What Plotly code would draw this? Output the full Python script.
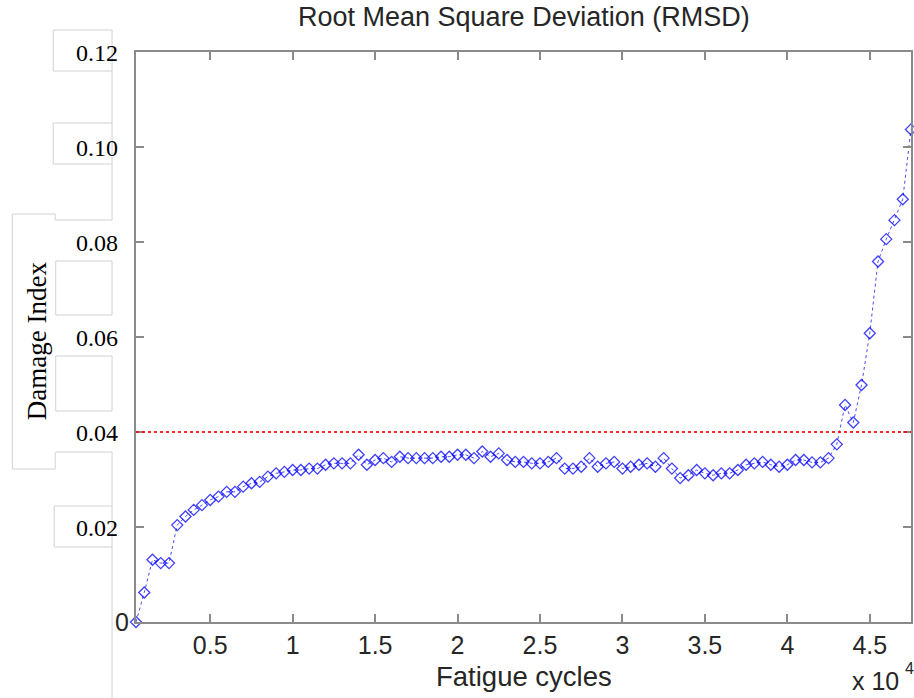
import plotly.graph_objects as go

# ---------------- data ----------------
cycles = [500, 1000, 1500, 2000, 2500, 3000, 3500, 4000, 4500, 5000,
          5500, 6000, 6500, 7000, 7500, 8000, 8500, 9000, 9500, 10000,
          10500, 11000, 11500, 12000, 12500, 13000, 13500, 14000, 14500, 15000,
          15500, 16000, 16500, 17000, 17500, 18000, 18500, 19000, 19500, 20000,
          20500, 21000, 21500, 22000, 22500, 23000, 23500, 24000, 24500, 25000,
          25500, 26000, 26500, 27000, 27500, 28000, 28500, 29000, 29500, 30000,
          30500, 31000, 31500, 32000, 32500, 33000, 33500, 34000, 34500, 35000,
          35500, 36000, 36500, 37000, 37500, 38000, 38500, 39000, 39500, 40000,
          40500, 41000, 41500, 42000, 42500, 43000, 43500, 44000, 44500, 45000,
          45500, 46000, 46500, 47000, 47500]
rmsd = [0.0000, 0.0062, 0.0131, 0.0124, 0.0124, 0.0204, 0.0222, 0.0236, 0.0246, 0.0257,
        0.0264, 0.0274, 0.0274, 0.0285, 0.0292, 0.0295, 0.0306, 0.0313, 0.0316, 0.0320,
        0.0320, 0.0323, 0.0323, 0.0331, 0.0334, 0.0334, 0.0334, 0.0352, 0.0331, 0.0341,
        0.0345, 0.0337, 0.0348, 0.0345, 0.0345, 0.0345, 0.0345, 0.0348, 0.0348, 0.0352,
        0.0352, 0.0345, 0.0359, 0.0348, 0.0355, 0.0341, 0.0337, 0.0337, 0.0334, 0.0334,
        0.0337, 0.0345, 0.0323, 0.0323, 0.0327, 0.0345, 0.0327, 0.0334, 0.0337, 0.0323,
        0.0327, 0.0331, 0.0334, 0.0327, 0.0345, 0.0323, 0.0303, 0.0309, 0.0320, 0.0313,
        0.0309, 0.0313, 0.0313, 0.0320, 0.0331, 0.0334, 0.0337, 0.0331, 0.0327, 0.0331,
        0.0341, 0.0341, 0.0336, 0.0336, 0.0345, 0.0374, 0.0457, 0.0420, 0.0499, 0.0608,
        0.0759, 0.0806, 0.0846, 0.0890, 0.1037]
threshold = 0.04

x_tick_vals = [5000, 10000, 15000, 20000, 25000, 30000, 35000, 40000, 45000]
x_tick_text = ["0.5", "1", "1.5", "2", "2.5", "3", "3.5", "4", "4.5"]
y_tick_vals = [0, 0.02, 0.04, 0.06, 0.08, 0.10, 0.12]
y_tick_text = ["0", "0.02", "0.04", "0.06", "0.08", "0.10", "0.12"]

title_text = "Root Mean Square Deviation (RMSD)"
x_title = "Fatigue cycles"
y_title = "Damage Index"
exp_base = "x 10"
exp_power = "4"

# ---------------- layout geometry (pixels) ----------------
W, H = 914, 698
L, R, T, B = 136, 913, 52, 622
PW, PH = R - L, B - T


def px(x):
    return (x - L) / PW


def py(y):
    return (B - y) / PH


SANS = "Liberation Sans, Arial, Helvetica, sans-serif"
SERIF = "Liberation Serif, Times New Roman, serif"
TXT = "#262626"
AX = "#8a8a8a"
BOX = "#d2d2d2"

fig = go.Figure()

fig.add_trace(go.Scatter(
    x=cycles, y=rmsd, mode="lines+markers",
    line=dict(color="rgba(0,0,255,0.7)", width=1, dash="dot"),
    marker=dict(symbol="diamond-open", size=8.5, color="rgba(0,0,255,0.75)",
                line=dict(width=1.3, color="rgba(0,0,255,0.75)")),
    cliponaxis=False, showlegend=False,
))

fig.add_hline(y=threshold, line=dict(color="rgba(255,0,0,0.85)", width=2, dash="dot"))

# ---------------- overlay boxes (left side) ----------------
shapes = []


def rect(x0, y0, x1, y1):
    shapes.append(dict(type="rect", xref="paper", yref="paper",
                       x0=px(x0), x1=px(x1), y0=py(y0), y1=py(y1),
                       line=dict(color=BOX, width=1), fillcolor="white", layer="above"))


def seg(x0, y0, x1, y1):
    shapes.append(dict(type="line", xref="paper", yref="paper",
                       x0=px(x0), x1=px(x1), y0=py(y0), y1=py(y1),
                       line=dict(color=BOX, width=1), layer="above"))


seg(112, 0, 112, 30)
rect(53, 30, 112, 71)
seg(112, 71, 112, 123)
rect(53, 123, 112, 164)
seg(112, 164, 112, 220)
seg(55, 220, 112, 220)
seg(55, 214, 55, 220)
seg(12, 214, 55, 214)
seg(12, 214, 12, 469)
seg(12, 469, 55, 469)
seg(55, 452, 55, 469)
rect(55.5, 261, 112, 315)
rect(55.5, 356, 112, 411)
seg(55.5, 452, 112, 452)
seg(112, 452, 112, 506)
rect(54, 506, 112, 547)
seg(112, 547, 112, 698)

# ---------------- annotations ----------------
ann = []
for v, t in zip(y_tick_vals, y_tick_text):
    if t == "0":
        ann.append(dict(x=px(131), y=v, xref="paper", yref="y", text=t, showarrow=False,
                        xanchor="right", yanchor="middle",
                        font=dict(family=SANS, size=25, color=TXT)))
    else:
        ann.append(dict(x=px(120), y=v, xref="paper", yref="y", text=t, showarrow=False,
                        xanchor="right", yanchor="middle", yshift=-1,
                        font=dict(family=SERIF, size=24, color="black")))

ann.append(dict(x=px(37), y=py(341), xref="paper", yref="paper", text=y_title,
                showarrow=False, textangle=-90, xanchor="center", yanchor="middle",
                font=dict(family=SERIF, size=27, color="black")))
ann.append(dict(x=0.5, y=py(17), xref="paper", yref="paper", text=title_text,
                showarrow=False, xanchor="center", yanchor="middle",
                font=dict(family=SANS, size=27, color=TXT)))
ann.append(dict(x=0.5, y=py(676), xref="paper", yref="paper", text=x_title,
                showarrow=False, xanchor="center", yanchor="middle",
                font=dict(family=SANS, size=27.5, color=TXT)))
ann.append(dict(x=px(852), y=py(697), xref="paper", yref="paper", text=exp_base,
                showarrow=False, xanchor="left", yanchor="bottom",
                font=dict(family=SANS, size=25, color=TXT)))
ann.append(dict(x=px(905), y=py(668), xref="paper", yref="paper", text=exp_power,
                showarrow=False, xanchor="left", yanchor="middle",
                font=dict(family=SANS, size=16, color=TXT)))

fig.update_layout(
    width=W, height=H,
    margin=dict(l=L, r=W - R, t=T, b=H - B, pad=0),
    paper_bgcolor="white", plot_bgcolor="white",
    shapes=shapes, annotations=ann,
    xaxis=dict(range=[cycles[0], cycles[-1]], tickvals=x_tick_vals, ticktext=x_tick_text,
               showgrid=False, zeroline=False, showline=True, linecolor=AX, linewidth=2,
               mirror="ticks", ticks="inside", ticklen=8, tickwidth=1.5, tickcolor=AX,
               tickfont=dict(family=SANS, size=25, color=TXT)),
    yaxis=dict(range=[0, 0.12], tickvals=y_tick_vals, showticklabels=False,
               showgrid=False, zeroline=False, showline=True, linecolor=AX, linewidth=2,
               mirror="ticks", ticks="inside", ticklen=8, tickwidth=1.5, tickcolor=AX),
)

fig.write_html("out.html")
